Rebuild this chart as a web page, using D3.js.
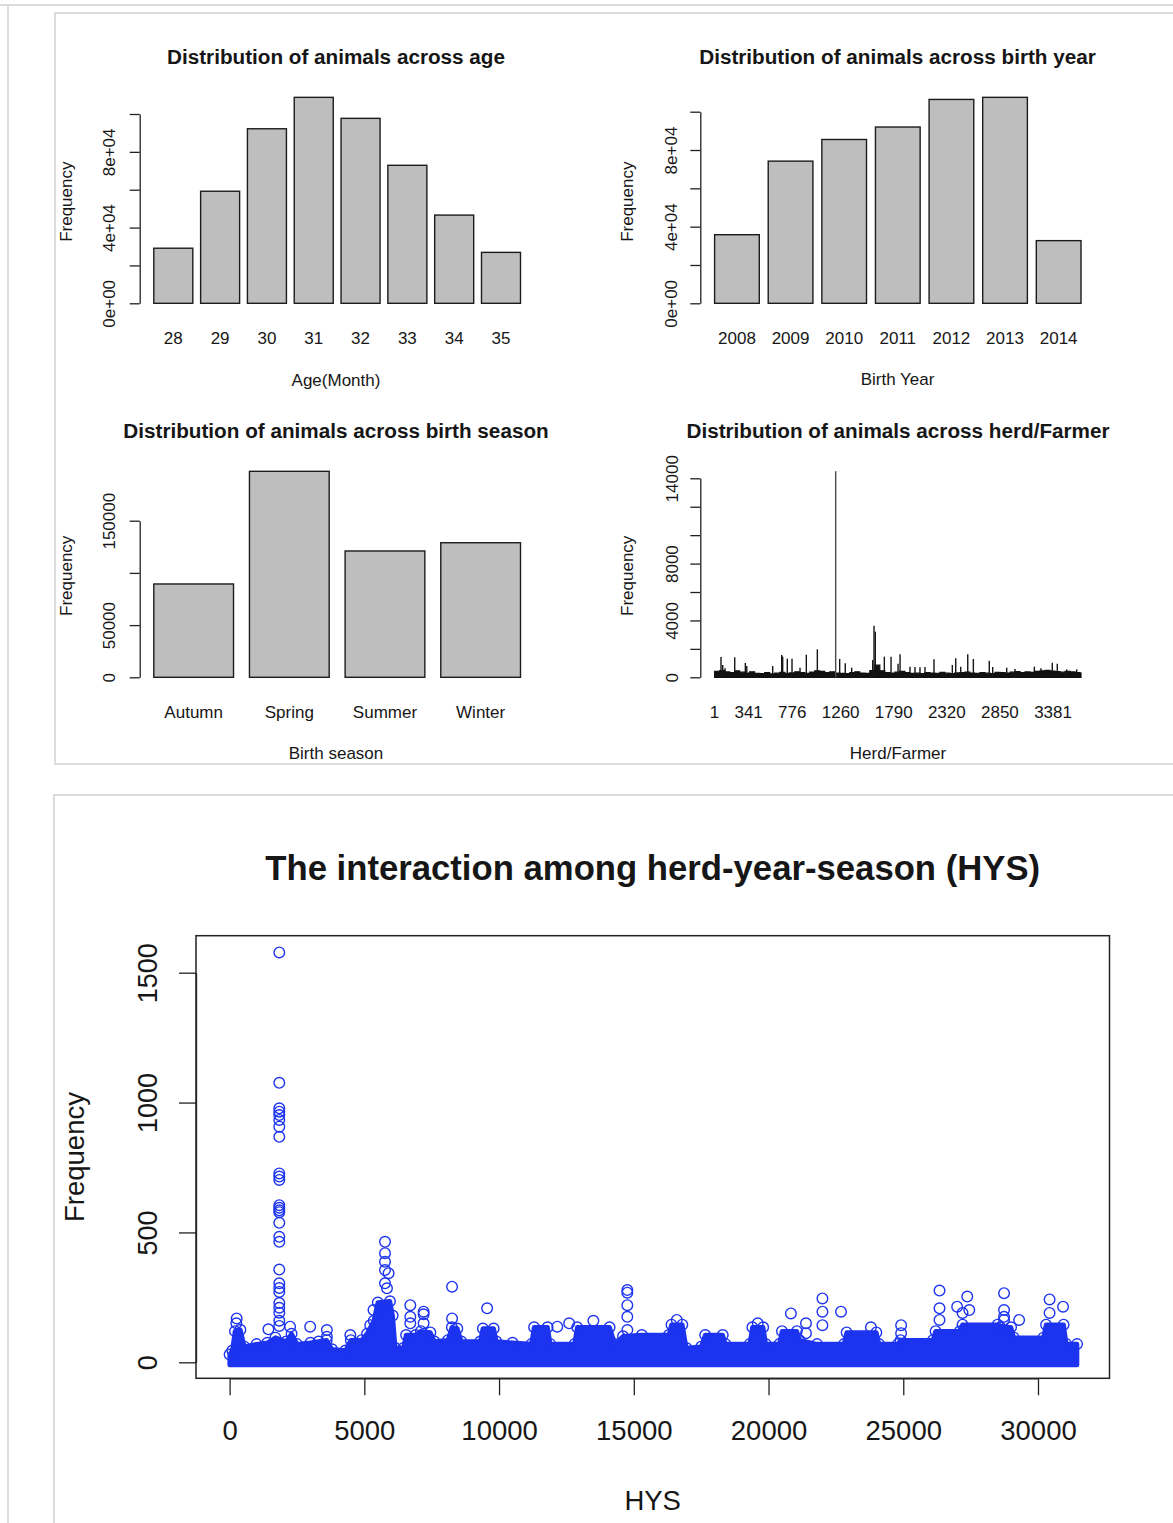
<!DOCTYPE html>
<html>
<head>
<meta charset="utf-8">
<script src="https://cdn.jsdelivr.net/npm/d3@7"></script>
<style>
  body { margin: 0; background: #fff; }
  svg text { font-family: "Liberation Sans", Arial, sans-serif; fill: #161616; }
</style>
</head>
<body>
<div id="chart"></div>
<script>
// ---- data ----
const ageMonths = ['28', '29', '30', '31', '32', '33', '34', '35'];
const ageCounts = [29100, 59200, 92200, 108800, 97700, 72900, 46600, 26900];

const birthYears = ['2008', '2009', '2010', '2011', '2012', '2013', '2014'];
const birthYearCounts = [35800, 74200, 85500, 92000, 106400, 107500, 32700];

const sciTicks = [0, 20000, 40000, 60000, 80000, 100000];
const sciTickLabels = ['0e+00', '', '4e+04', '', '8e+04', ''];

const seasons = ['Autumn', 'Spring', 'Summer', 'Winter'];
const seasonCounts = [89400, 197300, 121000, 128900];
const seasonTicks = [0, 50000, 100000, 150000];
const seasonTickLabels = ['0', '50000', '', '150000'];

// herd/farmer barplot: named herds on the axis, tall spikes, and the dense low band (every 50 herds)
const herdCount = 3660;
const herdNames = [1, 341, 776, 1260, 1790, 2320, 2850, 3381];
const herdTicks = [0, 2000, 4000, 6000, 8000, 10000, 12000, 14000];
const herdTickLabels = ['0', '', '4000', '', '8000', '', '', '14000'];
const herdSpikeIds = [65, 82, 105, 202, 308, 322, 581, 671, 681, 727, 774, 854, 917, 1027, 1210,
  1250, 1306, 1370, 1580, 1593, 1606, 1696, 1763, 1833, 1853, 1952, 2002, 2052, 2102, 2192,
  2375, 2409, 2459, 2529, 2585, 2744, 2778, 2918, 3001, 3194, 3260, 3373, 3423, 3517, 3617];
const herdSpikeCounts = [1430, 865, 633, 1407, 1006, 795, 795, 1569, 1450, 1310, 1310, 677, 1592, 1970, 14500,
  1290, 985, 677, 1218, 3630, 3208, 1450, 1450, 960, 1615, 748, 725, 703, 725, 1266,
  865, 1336, 748, 1615, 1290, 1170, 725, 677, 585, 748, 633, 1030, 960, 560, 560];
const herdBase = [420, 480, 380, 330, 450, 360, 300, 390, 280, 260,
  330, 240, 290, 350, 270, 310, 390, 330, 280, 370,
  460, 410, 330, 390, 300, 280, 260, 330, 390, 300,
  270, 480, 850, 460, 330, 300, 360, 420, 330, 280,
  290, 260, 330, 300, 270, 340, 290, 260, 310, 330,
  360, 300, 270, 330, 290, 260, 350, 330, 300, 360,
  400, 330, 380, 350, 420, 460, 490, 440, 400, 360,
  420, 380, 330, 300];

// HYS scatter: upper edge of the solid point cloud, plus the separate circles above it
const hysTicks = [0, 5000, 10000, 15000, 20000, 25000, 30000];
const hysFreqTicks = [0, 500, 1000, 1500];
const hysBandAt = [1, 100, 200, 400, 550, 1000, 1400, 1700, 2100, 2300, 2500, 3000, 3300, 3600, 3800,
  4300, 4500, 4900, 5100, 5350, 5500, 5950, 6050, 6150, 6450, 6550, 6900, 7100, 7450, 7600,
  8100, 8250, 8450, 8600, 9300, 9400, 9800, 9900, 10500, 11200, 11300, 11800, 11900, 12800, 12900,
  14100, 14300, 14600, 15300, 16300, 16400, 16800, 16950, 17500, 17650, 18300, 18400, 19300, 19400, 19800,
  19900, 20400, 20500, 21050, 21150, 21800, 22800, 22900, 24000, 24100, 24800, 24900, 26100, 26200, 27100,
  27200, 28500, 28600, 29000, 29100, 30200, 30300, 30950, 31050, 31450];
const hysBandTop = [30, 45, 120, 125, 60, 70, 75, 95, 80, 110, 70, 75, 80, 85, 50,
  45, 85, 85, 110, 160, 230, 235, 180, 55, 55, 105, 105, 120, 115, 80,
  85, 135, 130, 80, 80, 130, 130, 80, 75, 70, 135, 135, 70, 70, 135,
  135, 70, 100, 105, 105, 145, 145, 55, 60, 105, 105, 70, 70, 135, 135,
  70, 70, 120, 120, 85, 70, 70, 115, 115, 70, 70, 85, 85, 120, 120,
  145, 145, 135, 135, 95, 95, 145, 145, 70, 70];
const hysPointAt = [1844, 1844, 1844, 1844, 1844, 1844, 1844, 1844, 1844, 1844, 1844, 1844, 1844, 1844,
  1844, 1844, 1844, 1844, 1844, 1844, 1844, 1844, 1844, 1844, 1844, 1844, 1844,
  263, 250, 1440, 2245, 2990, 3610, 3610, 4480, 5220, 5340,
  5767, 5767, 5767, 5767, 5767, 5900, 5840,
  6706, 6706, 6706, 7200, 7200, 7200, 8256, 8256, 9557, 12160, 12600, 13500,
  14760, 14760, 14760, 14760, 14760, 16595, 19600, 20830, 21390, 21390,
  22000, 22000, 22000, 22690, 23800, 24920, 24920, 26345, 26345, 26345,
  27000, 27375, 27450, 27200, 28740, 28740, 28740, 28740, 29300, 30430, 30930, 30430];
const hysPointFreq = [1578, 1076, 978, 965, 952, 933, 907, 868, 727, 715, 702, 605, 595, 585,
  578, 537, 483, 464, 357, 304, 286, 271, 228, 210, 191, 160, 140,
  169, 150, 127, 137, 137, 124, 98, 105, 143, 201,
  464, 420, 387, 355, 304, 343, 285,
  220, 175, 150, 195, 185, 150, 291, 169, 208, 137, 150, 160,
  278, 268, 220, 175, 124, 163, 150, 188, 150, 112,
  246, 195, 143, 195, 135, 143, 112, 276, 208, 163,
  214, 253, 201, 190, 266, 201, 175, 163, 163, 242, 214, 190];

// ---- page ----
const svg = d3.select('#chart').append('svg')
  .attr('width', 1173)
  .attr('height', 1523);

// frames of the two output panels
svg.append('path')
  .attr('d', 'M0,5H1173M8,5V1523')
  .attr('fill', 'none')
  .attr('stroke', '#dcdcdc')
  .attr('stroke-width', 2);
svg.append('rect')
  .attr('x', 55).attr('y', 13).attr('width', 1140).attr('height', 751)
  .attr('fill', 'none').attr('stroke', '#dcdcdc').attr('stroke-width', 2);
svg.append('rect')
  .attr('x', 54).attr('y', 795).attr('width', 1140).attr('height', 760)
  .attr('fill', 'none').attr('stroke', '#dcdcdc').attr('stroke-width', 2);

function styleAxis(ax, size) {
  ax.attr('font-family', null).attr('font-size', size);
  ax.selectAll('path, line').attr('stroke', '#222').attr('stroke-width', 1.3);
  ax.selectAll('text').attr('fill', '#161616');
}

// rotated y tick labels like R's default las=0
function rotateLeftLabels(ax, offset) {
  ax.selectAll('text')
    .attr('x', 0)
    .attr('dy', null)
    .attr('text-anchor', 'middle')
    .attr('transform', `translate(${offset},0) rotate(-90)`);
}

function addText(g, txt, x, y, size, opts = {}) {
  const t = g.append('text')
    .attr('x', x).attr('y', y)
    .attr('text-anchor', 'middle')
    .attr('font-size', size)
    .text(txt);
  if (opts.bold) t.attr('font-weight', 'bold');
  if (opts.rotate) t.attr('transform', `rotate(-90,${x},${y})`);
  return t;
}

function panelLabels(g, p) {
  addText(g, p.title, p.centerX, p.titleY, 20.7, { bold: true });
  addText(g, p.xLabel, p.centerX, p.xLabelY, 17);
  addText(g, 'Frequency', p.freqX, p.freqY, 17, { rotate: true });
}

function barPanel(p) {
  const g = svg.append('g');
  const x = d3.scaleBand().domain(p.names).range(p.xRange).paddingInner(1 / 6).paddingOuter(0);
  const y = d3.scaleLinear().domain(p.yDomain).range(p.yRange);

  g.selectAll('rect.bar')
    .data(p.values)
    .join('rect')
    .attr('class', 'bar')
    .attr('x', (d, i) => x(p.names[i]))
    .attr('y', d => y(d))
    .attr('width', x.bandwidth())
    .attr('height', d => y(0) - y(d))
    .attr('fill', '#bebebe')
    .attr('stroke', '#1c1c1c')
    .attr('stroke-width', 1.4);

  const ax = g.append('g')
    .attr('transform', `translate(${p.axisX},0)`)
    .call(d3.axisLeft(y).tickValues(p.ticks).tickFormat((d, i) => p.tickLabels[i]).tickSize(10).tickSizeOuter(0));
  styleAxis(ax, 17);
  rotateLeftLabels(ax, p.tickBaseX - p.axisX);

  g.selectAll('text.name')
    .data(p.names)
    .join('text')
    .attr('class', 'name')
    .attr('x', d => x(d) + x.bandwidth() / 2)
    .attr('y', p.nameY)
    .attr('text-anchor', 'middle')
    .attr('font-size', 17)
    .text(d => d);

  panelLabels(g, p);
}

barPanel({
  names: ageMonths, values: ageCounts, ticks: sciTicks, tickLabels: sciTickLabels,
  xRange: [153.8, 520.5], yDomain: [0, 100000], yRange: [303.3, 114],
  axisX: 139.7, tickBaseX: 114.8, nameY: 343.9,
  title: 'Distribution of animals across age', titleY: 64.3, centerX: 336,
  xLabel: 'Age(Month)', xLabelY: 385.5, freqX: 72.5, freqY: 201.7,
});

barPanel({
  names: birthYears, values: birthYearCounts, ticks: sciTicks, tickLabels: sciTickLabels,
  xRange: [714.6, 1081], yDomain: [0, 100000], yRange: [303.3, 111.7],
  axisX: 700.3, tickBaseX: 676.6, nameY: 343.9,
  title: 'Distribution of animals across birth year', titleY: 64.3, centerX: 897.5,
  xLabel: 'Birth Year', xLabelY: 385, freqX: 633.5, freqY: 201.7,
});

barPanel({
  names: seasons, values: seasonCounts, ticks: seasonTicks, tickLabels: seasonTickLabels,
  xRange: [153.8, 520.5], yDomain: [0, 150000], yRange: [677.3, 520.7],
  axisX: 139.7, tickBaseX: 115.1, nameY: 718.3,
  title: 'Distribution of animals across birth season', titleY: 438.3, centerX: 336,
  xLabel: 'Birth season', xLabelY: 759.3, freqX: 72.5, freqY: 575.8,
});

// herd/farmer panel: thousands of thin bars
(function herdPanel() {
  const g = svg.append('g');
  const x = d3.scaleLinear().domain([1, herdCount]).range([714.6, 1081]);
  const y = d3.scaleLinear().domain([0, 14000]).range([677.3, 478.3]);

  const baseIds = herdBase.map((d, i) => 1 + 50 * i).concat([herdCount]);
  const baseVals = herdBase.concat([herdBase[herdBase.length - 1]]);
  const area = d3.area()
    .curve(d3.curveStepAfter)
    .x((d, i) => x(baseIds[i]))
    .y0(y(0))
    .y1(d => y(d));
  g.append('path')
    .datum(baseVals)
    .attr('d', area)
    .attr('fill', '#111')
    .attr('stroke', '#111')
    .attr('stroke-width', 1.2);

  g.selectAll('line.spike')
    .data(herdSpikeCounts)
    .join('line')
    .attr('class', 'spike')
    .attr('x1', (d, i) => x(herdSpikeIds[i]))
    .attr('x2', (d, i) => x(herdSpikeIds[i]))
    .attr('y1', y(0))
    .attr('y2', d => y(d))
    .attr('stroke', d => (d > 10000 ? '#4a4a4a' : '#151515'))
    .attr('stroke-width', d => (d > 10000 ? 1.4 : 1.4));

  const ax = g.append('g')
    .attr('transform', 'translate(700.3,0)')
    .call(d3.axisLeft(y).tickValues(herdTicks).tickFormat((d, i) => herdTickLabels[i]).tickSize(10).tickSizeOuter(0));
  styleAxis(ax, 17);
  rotateLeftLabels(ax, 677.6 - 700.3);

  g.selectAll('text.name')
    .data(herdNames)
    .join('text')
    .attr('class', 'name')
    .attr('x', d => x(d))
    .attr('y', 717.8)
    .attr('text-anchor', 'middle')
    .attr('font-size', 17)
    .text(d => d);

  panelLabels(g, {
    title: 'Distribution of animals across herd/Farmer', titleY: 438.3, centerX: 898,
    xLabel: 'Herd/Farmer', xLabelY: 759.3, freqX: 633.5, freqY: 575.8,
  });
})();

// HYS scatter
(function hysPanel() {
  const blue = '#1c34f0';
  const r = 5.3;
  const g = svg.append('g');
  const x = d3.scaleLinear().domain([0, 30000]).range([229.6, 1038]);
  const y = d3.scaleLinear().domain([0, 1500]).range([1362.3, 972.7]);

  addText(g, 'The interaction among herd-year-season (HYS)', 652.7, 880, 34.7, { bold: true });

  // solid cloud of overlapping circles
  const band = d3.area()
    .x((d, i) => x(hysBandAt[i]))
    .y0(y(1) + 3)
    .y1(d => y(d));
  g.append('path')
    .datum(hysBandTop)
    .attr('d', band)
    .attr('fill', blue)
    .attr('stroke', blue)
    .attr('stroke-width', 4.5)
    .attr('stroke-linejoin', 'round');

  // circles along the edge of the cloud
  g.selectAll('circle.edge')
    .data(hysBandTop)
    .join('circle')
    .attr('class', 'edge')
    .attr('cx', (d, i) => x(hysBandAt[i]))
    .attr('cy', d => y(d))
    .attr('r', r)
    .attr('fill', 'none')
    .attr('stroke', blue)
    .attr('stroke-width', 1.4);

  g.selectAll('circle.pt')
    .data(hysPointFreq)
    .join('circle')
    .attr('class', 'pt')
    .attr('cx', (d, i) => x(hysPointAt[i]))
    .attr('cy', d => y(d))
    .attr('r', r)
    .attr('fill', 'none')
    .attr('stroke', blue)
    .attr('stroke-width', 1.4);

  g.append('rect')
    .attr('x', 196).attr('y', 935.7)
    .attr('width', 1109.5 - 196).attr('height', 1378.3 - 935.7)
    .attr('fill', 'none').attr('stroke', '#222').attr('stroke-width', 1.5);

  const ax = g.append('g')
    .attr('transform', 'translate(0,1378.3)')
    .call(d3.axisBottom(x).tickValues(hysTicks).tickFormat(d3.format('d')).tickSize(17).tickSizeOuter(0));
  styleAxis(ax, 27.5);
  ax.selectAll('text').attr('y', 61.5).attr('dy', null);

  const ay = g.append('g')
    .attr('transform', 'translate(196,0)')
    .call(d3.axisLeft(y).tickValues(hysFreqTicks).tickFormat(d3.format('d')).tickSize(17).tickSizeOuter(0));
  styleAxis(ay, 27);
  rotateLeftLabels(ay, 156.9 - 196);

  addText(g, 'HYS', 652.7, 1510, 27.5);
  addText(g, 'Frequency', 84, 1157, 27.5, { rotate: true });
})();
</script>
</body>
</html>
